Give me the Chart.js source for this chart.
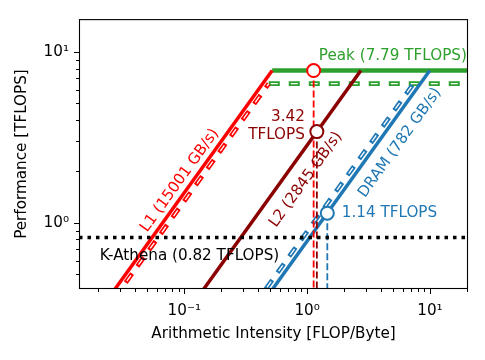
<!DOCTYPE html>
<html>
<head>
<meta charset="utf-8">
<script src="https://cdn.jsdelivr.net/npm/chart.js@4.4.0/dist/chart.umd.min.js"></script>
<style>
  html, body { margin: 0; padding: 0; background: #fff; }
</style>
</head>
<body>
<canvas id="roofline" width="485" height="360"></canvas>
<script>
// memory levels, bandwidth in GB/s
const levels = ["L1", "L2", "DRAM"];
const bandwidth = [15001, 2845, 782];
const measuredBandwidth = [13400, null, 890]; // dashed roofs
const levelColors = ["#ff0000", "#8b0000", "#1f77b4"];
const green = "#2ca02c";

const peak = 7.79;          // TFLOPS
const measuredPeak = 6.53;  // dashed ceiling
const kernelName = "K-Athena";
const kernelPerf = 0.82;

// kernel arithmetic intensity and roofline performance per level
const kernelAI = [1.13, 1.2, 1.46];
const kernelLevelPerf = [7.79, 3.42, 1.14];

const xMin = 0.0139, xMax = 20.4;
const yMin = 0.41, yMax = 15.58;
const xTicks = [0.1, 1, 10];
const xTickLabels = ["10⁻¹", "10⁰", "10¹"];
const yTicks = [1, 10];
const yTickLabels = ["10⁰", "10¹"];

const FONT = "DejaVu Sans";
const fontSize = 15.2;
const noClip = { left: 0, top: 0, right: 0, bottom: 0 };

const datasets = [];

function addLine(data, color, width, extra) {
  datasets.push(Object.assign({
    data: data, borderColor: color, borderWidth: width,
    pointRadius: 0, fill: false, clip: noClip, order: 5
  }, extra || {}));
}

// hollow dashes: thick coloured dash with a thin white dash inside
function addHollow(data, color) {
  addLine(data, color, 4.6, { borderDash: [11, 9], order: 7 });
  addLine(data, "#ffffff", 1.3, { borderDash: [7, 13], borderDashOffset: -2, order: 6 });
}

// solid rooflines
levels.forEach((lvl, i) => {
  const bw = bandwidth[i] / 1000;
  addLine([{ x: xMin, y: bw * xMin }, { x: peak / bw, y: peak }], levelColors[i], 3.5);
});
addLine([{ x: peak / (bandwidth[0] / 1000), y: peak }, { x: xMax, y: peak }], green, 4.5);

// measured (dashed) rooflines
measuredBandwidth.forEach((mb, i) => {
  if (mb == null) return;
  const bw = mb / 1000;
  addHollow([{ x: xMin, y: bw * xMin }, { x: measuredPeak / bw, y: measuredPeak }], levelColors[i]);
});
addHollow([{ x: measuredPeak / (measuredBandwidth[0] / 1000), y: measuredPeak }, { x: xMax, y: measuredPeak }], green);

// kernel performance
addLine([{ x: xMin, y: kernelPerf }, { x: xMax, y: kernelPerf }], "#000000", 3.5,
  { borderDash: [3.5, 5], borderCapStyle: "butt", order: 3 });

// drop lines from the kernel points
kernelAI.forEach((ai, i) => {
  addLine([{ x: ai, y: kernelLevelPerf[i] }, { x: ai, y: yMin }], levelColors[i], 1.8,
    { borderDash: [7, 3], order: 4 });
});

// kernel points
datasets.push({
  data: kernelAI.map((ai, i) => ({ x: ai, y: kernelLevelPerf[i] })),
  showLine: false,
  pointRadius: 6.5,
  pointBorderWidth: 2,
  pointBackgroundColor: "#ffffff",
  pointBorderColor: levelColors,
  order: 0
});

const textLabels = [
  { text: `Peak (${peak} TFLOPS)`, x: 1.245, y: 9.52, color: green, align: "left" },
  { text: kernelLevelPerf[1].toFixed(2), x: 0.958, y: 4.16, color: levelColors[1], align: "right" },
  { text: "TFLOPS", x: 0.958, y: 3.27, color: levelColors[1], align: "right" },
  { text: `${kernelLevelPerf[2]} TFLOPS`, x: 1.917, y: 1.138, color: levelColors[2], align: "left" },
  { text: `${kernelName} (${kernelPerf} TFLOPS)`, x: 0.0205, y: 0.641, color: "#000000", align: "left" }
];
// centres of the labels along each roofline
const slopeLabelPos = [{ x: 0.0919, y: 1.769 }, { x: 0.976, y: 1.79 }, { x: 5.69, y: 2.94 }];

const extras = {
  id: "extras",
  afterDatasetsDraw(chart) {
    const { ctx, scales: { x, y } } = chart;
    ctx.save();
    ctx.font = `${fontSize}px "${FONT}"`;
    ctx.textBaseline = "middle";
    textLabels.forEach(t => {
      ctx.fillStyle = t.color;
      ctx.textAlign = t.align;
      ctx.fillText(t.text, x.getPixelForValue(t.x), y.getPixelForValue(t.y));
    });
    levels.forEach((lvl, i) => {
      const bw = bandwidth[i] / 1000;
      const ang = Math.atan2(y.getPixelForValue(bw * 10) - y.getPixelForValue(bw),
                             x.getPixelForValue(10) - x.getPixelForValue(1));
      ctx.save();
      ctx.translate(x.getPixelForValue(slopeLabelPos[i].x), y.getPixelForValue(slopeLabelPos[i].y));
      ctx.rotate(ang);
      ctx.textAlign = "center";
      ctx.fillStyle = levelColors[i];
      ctx.fillText(`${lvl} (${bandwidth[i]} GB/s)`, 0, 0);
      ctx.restore();
    });
    ctx.restore();
  },
  afterDraw(chart) {
    const { ctx, chartArea: a, scales: { x, y } } = chart;
    ctx.save();
    ctx.strokeStyle = "#000";
    ctx.lineWidth = 1.1;
    ctx.strokeRect(a.left + 0.5, a.top + 0.5, a.right - a.left - 1, a.bottom - a.top - 1);
    ctx.lineWidth = 1;
    const ticksFor = (scale, lo, hi, draw) => {
      for (let d = Math.floor(Math.log10(lo)); d <= Math.ceil(Math.log10(hi)); d++) {
        for (let k = 1; k <= 9; k++) {
          const v = k * Math.pow(10, d);
          if (v < lo || v > hi) continue;
          draw(Math.round(scale.getPixelForValue(v)) + 0.5, k === 1 ? 5 : 3);
        }
      }
    };
    ctx.beginPath();
    ticksFor(x, xMin, xMax, (px, len) => { ctx.moveTo(px, a.bottom); ctx.lineTo(px, a.bottom + len); });
    ticksFor(y, yMin, yMax, (py, len) => { ctx.moveTo(a.left, py); ctx.lineTo(a.left - len, py); });
    ctx.stroke();
    ctx.restore();
  }
};

const tickFont = { family: FONT, size: fontSize };

new Chart(document.getElementById("roofline"), {
  type: "line",
  data: { datasets: datasets },
  options: {
    responsive: false,
    animation: false,
    devicePixelRatio: 1,
    layout: { padding: { left: 0, top: 16, right: 17, bottom: 0 } },
    elements: { line: { tension: 0 } },
    plugins: { legend: { display: false }, tooltip: { enabled: false } },
    scales: {
      x: {
        type: "logarithmic",
        min: xMin,
        max: xMax,
        afterBuildTicks: s => { s.ticks = xTicks.map(v => ({ value: v })); },
        afterFit: s => { s.height = 71; },
        ticks: {
          callback: v => xTickLabels[xTicks.indexOf(v)],
          font: tickFont, color: "#000", padding: 13, maxRotation: 0, autoSkip: false
        },
        grid: { display: false, drawTicks: false },
        border: { display: false },
        title: {
          display: true, text: "Arithmetic Intensity [FLOP/Byte]",
          font: tickFont, color: "#000", padding: { top: 0, bottom: 17 }
        }
      },
      y: {
        type: "logarithmic",
        min: yMin,
        max: yMax,
        afterBuildTicks: s => { s.ticks = yTicks.map(v => ({ value: v })); },
        afterFit: s => { s.width = 79; },
        ticks: {
          callback: v => yTickLabels[yTicks.indexOf(v)],
          font: tickFont, color: "#000", padding: 10
        },
        grid: { display: false, drawTicks: false },
        border: { display: false },
        title: {
          display: true, text: "Performance [TFLOPS]",
          font: tickFont, color: "#000", padding: { top: 13, bottom: 0 }
        }
      }
    }
  },
  plugins: [extras]
});
</script>
</body>
</html>
